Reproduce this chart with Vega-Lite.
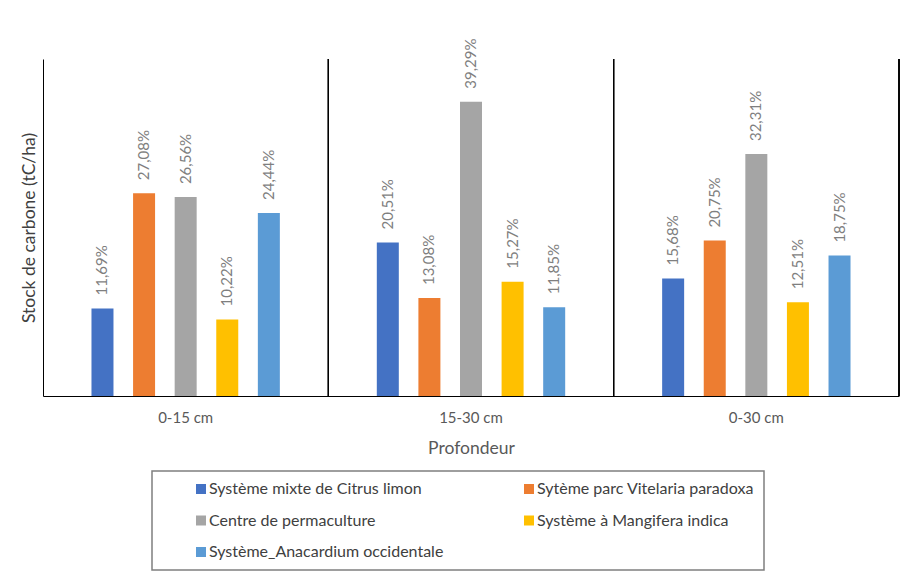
{
  "$schema": "https://vega.github.io/schema/vega-lite/v6.json",
  "width": 856,
  "height": 337,
  "autosize": {"type": "none"},
  "padding": {"left": 43, "top": 59, "right": 12, "bottom": 177},
  "background": "white",
  "data": {
    "values": [
      {"profondeur": "0-15 cm", "systeme": "Système mixte de Citrus limon", "part": 0.1169},
      {"profondeur": "0-15 cm", "systeme": "Sytème parc Vitelaria paradoxa", "part": 0.2708},
      {"profondeur": "0-15 cm", "systeme": "Centre de permaculture", "part": 0.2656},
      {"profondeur": "0-15 cm", "systeme": "Système à Mangifera indica", "part": 0.1022},
      {"profondeur": "0-15 cm", "systeme": "Système_Anacardium occidentale", "part": 0.2444},
      {"profondeur": "15-30 cm", "systeme": "Système mixte de Citrus limon", "part": 0.2051},
      {"profondeur": "15-30 cm", "systeme": "Sytème parc Vitelaria paradoxa", "part": 0.1308},
      {"profondeur": "15-30 cm", "systeme": "Centre de permaculture", "part": 0.3929},
      {"profondeur": "15-30 cm", "systeme": "Système à Mangifera indica", "part": 0.1527},
      {"profondeur": "15-30 cm", "systeme": "Système_Anacardium occidentale", "part": 0.1185},
      {"profondeur": "0-30 cm", "systeme": "Système mixte de Citrus limon", "part": 0.1568},
      {"profondeur": "0-30 cm", "systeme": "Sytème parc Vitelaria paradoxa", "part": 0.2075},
      {"profondeur": "0-30 cm", "systeme": "Centre de permaculture", "part": 0.3231},
      {"profondeur": "0-30 cm", "systeme": "Système à Mangifera indica", "part": 0.1251},
      {"profondeur": "0-30 cm", "systeme": "Système_Anacardium occidentale", "part": 0.1875}
    ]
  },
  "encoding": {
    "x": {
      "field": "profondeur",
      "type": "nominal",
      "sort": ["0-15 cm", "15-30 cm", "0-30 cm"],
      "scale": {"paddingInner": 0, "paddingOuter": 0},
      "axis": {
        "title": "Profondeur",
        "labelAngle": 0,
        "ticks": false,
        "domainColor": "#000000",
        "domainWidth": 1,
        "labelPadding": 14,
        "labelFont": "Lato",
        "labelFontSize": 15,
        "labelColor": "#595959",
        "titleFont": "Lato",
        "titleFontSize": 17.5,
        "titleFontWeight": "normal",
        "titleColor": "#595959",
        "titlePadding": 14
      }
    }
  },
  "layer": [
    {
      "mark": {"type": "bar", "width": 22},
      "encoding": {
        "xOffset": {
          "field": "systeme",
          "type": "nominal",
          "sort": ["Système mixte de Citrus limon", "Sytème parc Vitelaria paradoxa", "Centre de permaculture", "Système à Mangifera indica", "Système_Anacardium occidentale"],
          "scale": {"paddingInner": 0, "paddingOuter": 0.93}
        },
        "y": {
          "field": "part",
          "type": "quantitative",
          "scale": {"domain": [0, 0.45], "nice": false},
          "axis": {
            "title": "Stock de carbone (tC/ha)",
            "labels": false,
            "ticks": false,
            "grid": false,
            "domainColor": "#000000",
            "domainWidth": 1,
            "titleFont": "Lato",
            "titleFontSize": 17.5,
            "titleFontWeight": "normal",
            "titleColor": "#404040",
            "titlePadding": 5
          }
        },
        "color": {
          "field": "systeme",
          "type": "nominal",
          "scale": {
            "domain": ["Système mixte de Citrus limon", "Sytème parc Vitelaria paradoxa", "Centre de permaculture", "Système à Mangifera indica", "Système_Anacardium occidentale"],
            "range": ["#4472C4", "#ED7D31", "#A5A5A5", "#FFC000", "#5B9BD5"]
          },
          "legend": {
            "title": null,
            "orient": "none",
            "direction": "horizontal",
            "legendX": 109,
            "legendY": 412,
            "columns": 2,
            "gridAlign": "all",
            "columnPadding": 46,
            "rowPadding": 15.5,
            "padding": 10,
            "strokeColor": "#7f7f7f",
            "symbolType": "square",
            "symbolSize": 100,
            "symbolStrokeWidth": 0,
            "symbolOffset": 31,
            "labelOffset": 0,
            "labelFont": "Lato",
            "labelFontSize": 16,
            "labelColor": "#404040",
            "labelLimit": 400
          }
        }
      }
    },
    {
      "mark": {"type": "text", "angle": 270, "align": "left", "baseline": "middle", "dx": 13, "font": "Lato", "fontSize": 15, "color": "#7f7f7f"},
      "encoding": {
        "xOffset": {
          "field": "systeme",
          "type": "nominal",
          "sort": ["Système mixte de Citrus limon", "Sytème parc Vitelaria paradoxa", "Centre de permaculture", "Système à Mangifera indica", "Système_Anacardium occidentale"],
          "scale": {"paddingInner": 0, "paddingOuter": 0.93}
        },
        "y": {"field": "part", "type": "quantitative"},
        "text": {"field": "part", "type": "quantitative", "format": ".2%"}
      }
    },
    {
      "mark": {"type": "rule", "color": "#000000", "strokeWidth": 1},
      "encoding": {
        "x": {"field": "profondeur", "type": "nominal", "bandPosition": 1, "sort": ["0-15 cm", "15-30 cm", "0-30 cm"]}
      }
    }
  ],
  "config": {
    "view": {"stroke": null},
    "legend": {"strokeWidth": 1.5},
    "locale": {
      "number": {"decimal": ",", "thousands": " ", "grouping": [3], "currency": ["", " €"]}
    }
  }
}
